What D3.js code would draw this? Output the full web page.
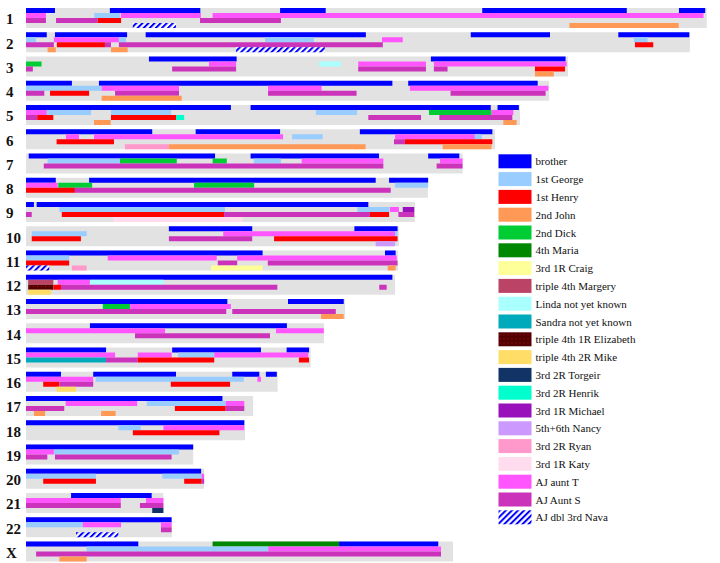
<!DOCTYPE html>
<html><head><meta charset="utf-8">
<script src="https://cdn.jsdelivr.net/npm/d3@7"></script>
<style>body{margin:0;background:#fff;}svg{display:block;}</style>
</head><body>
<svg id="chart" width="720" height="563"></svg>
<script>
const chromosomes = ["1","2","3","4","5","6","7","8","9","10","11","12","13","14","15","16","17","18","19","20","21","22","X"];
const chromLengths = [249.2,243.0,198.4,191.5,180.8,171.7,159.8,147.1,142.4,136.5,136.2,135.1,116.8,109.1,104.2,92.1,83.1,80.2,61.2,65.2,50.3,53.4,156.3];
const relatives = ["brother","1st George","1st Henry","2nd John","2nd Dick","4th Maria","3rd 1R Craig","triple 4th Margery","Linda not yet known","Sandra not yet known","triple 4th 1R Elizabeth","triple 4th 2R Mike","3rd 2R Torgeir","3rd 2R Henrik","3rd 1R Michael","5th+6th Nancy","3rd 2R Ryan","3rd 1R Katy","AJ aunt T","AJ Aunt S","AJ dbl 3rd Nava"];
const relativeColors = ["#0000ff","#99ccff","#ff0000","#ff9955","#00cc33","#008800","#ffff99","#bb4466","#aaffff","#00aabb","url(#dots)","#ffdd66","#113366","#00ffcc","#9911bb","#cc99ff","#ff99cc","#ffddee","#ff55ff","#cc33bb","url(#hatch)"];
// [chromosome, relative index, track, start Mb, end Mb]
const segments = [
["1",0,0,0,10.6],["1",0,0,30.7,63.8],["1",0,0,93.0,109.7],["1",0,0,167.0,219.9],["1",0,0,239.0,248.6],
["1",18,1,0,7.3],["1",1,1,25.0,34.4],["1",18,1,34.7,64.0],["1",18,1,68.3,248.0],
["1",19,2,0,7.3],["1",19,2,11.0,26.2],["1",2,2,26.2,34.8],["1",19,2,63.7,93.3],
["1",20,3,39.1,54.9],["1",3,3,198.9,238.9],
["2",0,0,0,7.6],["2",0,0,10.6,37.0],["2",0,0,43.8,124.4],["2",0,0,162.8,191.8],["2",0,0,216.8,242.8],
["2",1,1,0,3.7],["2",18,1,10.2,34.0],["2",1,1,34.0,36.6],["2",1,1,87.5,105.4],["2",18,1,130.3,137.9],["2",1,1,222.5,227.5],
["2",19,2,0,10.2],["2",2,2,11.3,28.9],["2",19,2,28.9,31.1],["2",19,2,34.0,130.6],["2",2,2,222.9,229.6],
["2",3,3,7.9,10.9],["2",3,3,31.1,37.2],["2",20,3,76.9,109.4],
["3",0,0,45.0,77.1],["3",0,0,148.2,197.5],
["3",4,1,0,5.7],["3",18,1,67.0,76.9],["3",8,1,107.2,115.2],["3",18,1,121.6,146.4],["3",18,1,149.3,197.9],
["3",19,2,0,2.5],["3",19,2,53.5,76.9],["3",19,2,121.6,146.4],["3",19,2,149.3,154.3],["3",2,2,186.3,197.3],
["3",3,3,186.3,193.2],
["4",0,0,0,16.8],["4",0,0,26.7,134.1],["4",0,0,139.9,187.3],
["4",1,1,0,27.7],["4",18,1,27.7,56.0],["4",18,1,88.6,108.2],["4",18,1,140.5,191.2],
["4",19,2,0,6.7],["4",2,2,8.8,23.1],["4",19,2,32.6,56.0],["4",19,2,88.6,121.0],["4",19,2,155.4,190.2],
["4",3,3,27.7,57.0],
["5",0,0,0,75.0],["5",0,0,82.2,170.1],["5",0,0,172.6,180.4],
["5",18,1,0,7.6],["5",1,1,7.6,23.8],["5",1,1,31.1,53.1],["5",1,1,106.1,121.2],["5",4,1,147.5,170.4],["5",18,1,170.4,178.4],
["5",19,2,0,4.1],["5",2,2,4.1,10.0],["5",2,2,31.1,54.9],["5",13,2,54.9,57.9],["5",19,2,125.3,144.6],["5",19,2,151.3,178.0],
["5",3,3,24.9,31.0],["5",3,3,174.7,179.6],
["6",0,0,0,46.2],["6",0,0,62.1,93.0],["6",0,0,122.2,170.7],
["6",18,1,14.6,19.4],["6",18,1,24.9,94.1],["6",1,1,97.4,108.6],["6",18,1,135.1,164.3],["6",1,1,164.3,166.8],
["6",2,2,11.2,32.2],["6",19,2,134.7,138.7],["6",2,2,138.7,170.7],
["6",16,3,36.2,52.3],["6",3,3,52.3,124.3],["6",3,3,152.5,170.4],
["7",0,0,1.0,69.2],["7",0,0,82.2,129.2],["7",0,0,147.2,158.6],
["7",1,1,7.9,34.4],["7",4,1,34.4,55.2],["7",4,1,68.3,73.5],["7",1,1,83.4,93.3],["7",18,1,100.9,130.8],["7",18,1,151.5,159.8],
["7",19,2,6.5,130.8],["7",19,2,150.3,159.8],
["8",0,0,0,10.9],["8",0,0,23.1,128.0],["8",0,0,132.9,147.2],
["8",18,1,0,11.6],["8",4,1,11.8,24.2],["8",4,1,61.5,83.5],["8",1,1,135.1,147.2],
["8",2,2,0,17.9],["8",19,2,17.9,133.5],
["9",0,0,0,2.9],["9",0,0,3.9,125.3],
["9",1,1,12.2,72.8],["9",1,1,121.3,133.0],["9",18,1,133.2,136.5],["9",14,1,137.9,142.1],
["9",19,2,0,2.1],["9",2,2,13.1,72.5],["9",19,2,72.5,125.9],["9",2,2,125.9,132.9],["9",19,2,136.3,142.1],
["9",17,3,32.0,79.3],
["10",0,0,52.3,82.8],["10",0,0,120.2,136.0],
["10",1,1,2.1,22.2],["10",18,1,72.2,135.1],["10",1,1,135.1,136.0],
["10",2,2,2.1,20.1],["10",19,2,52.3,82.8],["10",2,2,90.8,136.0],
["10",15,3,128.0,135.1],
["11",0,0,0,86.6],["11",0,0,131.4,135.3],
["11",1,1,0,15.8],["11",18,1,29.9,69.8],["11",18,1,77.3,135.7],
["11",2,2,0,15.8],["11",19,2,70.2,77.3],["11",19,2,88.5,136.0],
["11",20,3,0,8.5],["11",16,3,16.8,22.2],["11",6,3,67.7,86.6],["11",3,3,132.4,135.3],
["12",0,0,0,134.1],
["12",7,1,0.8,10.0],["12",18,1,11.6,23.4],["12",8,1,23.4,50.3],
["12",10,2,0.8,10.0],["12",2,2,10.0,12.8],["12",19,2,12.8,92.0],["12",19,2,129.3,132.0],
["12",11,3,0.8,9.2],
["13",0,0,0,73.7],["13",0,0,95.9,116.3],
["13",4,1,28.1,38.1],["13",18,1,38.1,75.0],
["13",19,2,0,73.3],["13",19,2,75.5,113.4],
["13",3,3,108.0,116.3],
["14",0,0,23.4,95.5],
["14",18,1,0,50.9],["14",18,1,91.5,109.0],
["14",19,2,39.9,89.3],
["15",0,0,0,29.3],["15",0,0,53.5,86.0],["15",0,0,95.4,103.6],
["15",18,1,0,32.6],["15",18,1,40.9,53.3],["15",1,1,55.7,68.9],["15",18,1,68.9,103.3],
["15",9,2,0,29.3],["15",19,2,29.3,40.9],["15",2,2,40.9,68.9],["15",2,2,99.9,103.6],
["16",0,0,0,12.8],["16",0,0,24.6,54.9],["16",0,0,75.5,85.4],["16",0,0,87.8,91.8],
["16",18,1,0,24.6],["16",1,1,25.5,79.7],["16",18,1,84.7,86.0],
["16",2,2,6.3,12.2],["16",19,2,12.2,24.6],["16",2,2,53.0,74.7],
["16",11,3,11.2,18.3],
["17",0,0,0,71.9],
["17",18,1,14.5,40.7],["17",1,1,44.2,73.1],["17",18,1,73.1,79.9],
["17",19,2,0,14.0],["17",2,2,54.5,73.1],["17",19,2,73.1,79.9],
["17",3,3,2.9,7.0],["17",3,3,27.5,32.8],
["18",0,0,0,79.9],
["18",1,1,33.8,42.0],["18",18,1,50.3,79.9],
["18",2,2,39.1,70.8],
["19",0,0,0,61.2],
["19",18,1,0,10.2],["19",1,1,10.2,56.0],
["19",19,2,0,7.8],["19",19,2,10.6,53.3],
["20",0,0,0,64.1],
["20",1,1,0,25.6],["20",1,1,49.9,64.3],["20",18,1,64.3,65.2],
["20",2,2,6.3,25.6],["20",2,2,57.9,64.3],["20",19,2,64.3,65.2],
["21",0,0,16.5,46.0],
["21",18,1,0,34.7],["21",18,1,43.9,50.3],
["21",19,2,0,34.7],["21",19,2,41.7,50.3],
["21",12,3,46.2,50.3],
["22",0,0,0,53.3],
["22",1,1,0,20.8],["22",18,1,20.8,34.8],["22",18,1,49.4,53.3],
["22",19,2,49.4,53.3],
["22",20,3,18.3,33.8],
["X",0,0,0,41.1],["X",5,0,68.3,114.6],["X",0,0,114.6,150.9],
["X",1,1,22.2,88.7],["X",18,1,88.7,151.9],
["X",19,2,3.7,151.9],
["X",3,3,12.2,22.2]
];
const tracks = [0,1,2,3];

const svg = d3.select("#chart");
const defs = svg.append("defs");
const hatch = defs.append("pattern").attr("id","hatch").attr("patternUnits","userSpaceOnUse")
  .attr("width",4.3).attr("height",4.3).attr("patternTransform","rotate(45)");
hatch.append("rect").attr("width",4.3).attr("height",4.3).attr("fill","#fff");
hatch.append("rect").attr("width",2).attr("height",4.3).attr("fill","#0000ff");
const dots = defs.append("pattern").attr("id","dots").attr("patternUnits","userSpaceOnUse")
  .attr("width",4).attr("height",4);
dots.append("rect").attr("width",4).attr("height",4).attr("fill","#550000");
dots.append("rect").attr("x",1).attr("y",2).attr("width",1).attr("height",1).attr("fill","#aa1111");

const x = d3.scaleLinear().domain([0,250]).range([26,709]);
const y = d3.scaleBand().domain(chromosomes).range([8,561.5]).paddingInner(0.175).paddingOuter(0);
const t = d3.scaleBand().domain(tracks).range([0,y.bandwidth()]);

const rows = svg.append("g").selectAll("g").data(chromosomes).join("g")
  .attr("transform", d => `translate(0,${y(d)})`);
rows.append("rect").attr("x", x(0)).attr("y",0)
  .attr("width", (d,i) => x(chromLengths[i]) - x(0)).attr("height", y.bandwidth())
  .attr("fill","#e2e2e2");
rows.append("text").attr("x",6).attr("y",16.3).attr("text-anchor","start")
  .attr("font-family","'Liberation Serif','Times New Roman',serif").attr("font-weight","bold")
  .attr("font-size",15).attr("fill","#111").text(d => d);

svg.append("g").selectAll("rect").data(segments).join("rect")
  .attr("x", d => x(d[3]))
  .attr("y", d => y(d[0]) + t(d[2]))
  .attr("width", d => Math.max(0.5, x(d[4]) - x(d[3])))
  .attr("height", t.bandwidth())
  .attr("fill", d => relativeColors[d[1]]);

const ly = d3.scaleLinear().domain([0,1]).range([154.3,172.1]);
const leg = svg.append("g").selectAll("g").data(relatives).join("g")
  .attr("transform",(d,i)=>`translate(498.5,${ly(i)})`);
leg.append("rect").attr("width",33).attr("height",14)
  .attr("fill",(d,i)=>relativeColors[i]);
leg.append("text").attr("x",37).attr("y",11)
  .attr("font-family","'Liberation Serif','Times New Roman',serif")
  .attr("font-size",11).attr("fill","#111").text(d=>d);
</script>
</body></html>
